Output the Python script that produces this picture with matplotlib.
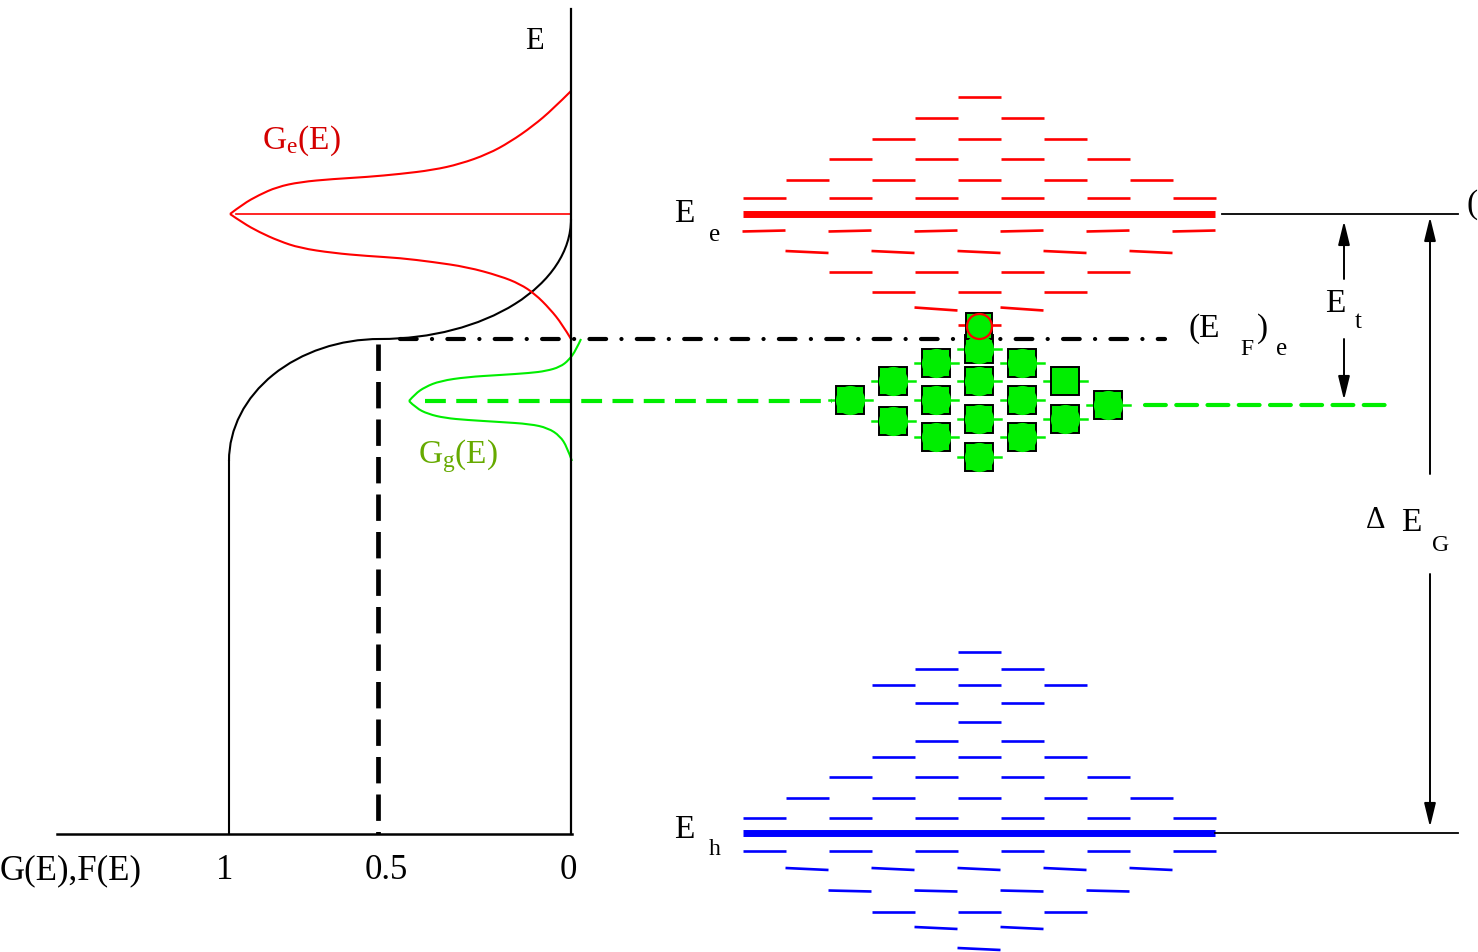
import matplotlib
matplotlib.use("Agg")
import matplotlib.pyplot as plt
from matplotlib.path import Path
from matplotlib.patches import PathPatch, Arc

plt.rcParams['font.family'] = ['Liberation Serif', 'DejaVu Serif']
plt.rcParams['mathtext.fontset'] = 'custom'
plt.rcParams['mathtext.rm'] = 'Liberation Serif'
plt.rcParams['mathtext.it'] = 'Liberation Serif:italic'
plt.rcParams['lines.scale_dashes'] = False

# ---------------- data (energy axis in picture units, pointing down) ----------------
tick_labels = ['G(E),F(E)', '1', '0.5', '0']
tick_pos = [0, 225, 386, 568]

E_top, E_axis = 10, 835          # extent of the energy axis
E_e = 215                         # conduction level
E_h = 834                         # valence level
E_F = 340                         # quasi Fermi level (E_F)_e
E_g = 402                         # trap level

# G_e(E) distribution (upper branch, lower branch)
ge_up_x = [571, 553, 533, 510, 488, 460, 433, 400, 367, 333, 300, 277, 259, 243, 230]
ge_up_y = [92, 110, 127, 143, 155, 165, 171, 175, 178, 180, 183, 188, 196, 205, 215]
ge_lo_x = [230, 243, 259, 279, 300, 333, 367, 400, 433, 467, 500, 520, 535, 550, 562, 571]
ge_lo_y = [215, 224, 233, 242, 249, 254, 257, 259, 263, 268, 277, 285, 295, 310, 325, 340]

# G_g(E) distribution
gg_up_x = [581, 576, 569, 560, 546, 530, 500, 467, 440, 425, 415, 409]
gg_up_y = [340, 351, 361, 368, 372, 374, 376, 378, 382, 388, 395, 402]
gg_lo_x = [409, 416, 428, 445, 467, 500, 530, 548, 560, 567, 572]
gg_lo_y = [402, 409, 415, 419, 421, 423, 425, 429, 437, 448, 462]

# electron band sub-levels: row energy, number of states, tilt
red_rows_y = [98, 119, 140, 160, 181, 199, 232, 253, 273, 293, 310, 326]
red_rows_n = [1, 2, 3, 4, 5, 6, 6, 5, 4, 3, 2, 1]
red_rows_t = [0, 0, 0, 0, 0, 0, -1, 2, 0, 0, 3, 0]

# hole band sub-levels
blue_rows_y = [653, 670, 686, 704, 723, 742, 758, 778, 799, 819, 852, 870, 892, 913, 929, 950]
blue_rows_n = [1, 2, 3, 2, 1, 2, 3, 4, 5, 6, 6, 5, 4, 3, 2, 1]
blue_rows_t = [0, 0, 0, 0, 0, 0, 0, 0, 0, 0, 0, 2, 1, 0, 2, 2]

# trap states (column index relative to centre, energy, rounded look)
trap_col = [-3, -2, -2, -1, -1, -1, 0, 0, 0, 0, 1, 1, 1, 2, 2, 3]
trap_y = [401, 382, 422, 364, 401, 438, 350, 382, 420, 458, 364, 401, 438, 382, 420, 406]
trap_round = [1, 1, 1, 1, 1, 1, 1, 1, 1, 1, 1, 1, 1, 0, 1, 1]
occupied_col, occupied_y = 0, 327

# ---------------- layout ----------------
W, H = 1478, 953
fig = plt.figure(figsize=(W / 100, H / 100), dpi=100)
ax = fig.add_axes([0, 0, 1, 1])
ax.set_xlim(0, W)
ax.set_ylim(H, 0)
ax.axis('off')

X_AX = 571          # F=0 axis
X_ONE = 229         # F=1
X_HALF = 378        # F=0.5
CX = 979            # centre of level diamonds
STEP = 43           # half column spacing
BAND_L, BAND_R = 743, 1215

RED = '#ff0000'
BLUE = '#0000ff'
GREEN = '#00ee00'


def smooth(xs, ys):
    pts = list(zip(xs, ys))
    verts = [pts[0]]
    codes = [Path.MOVETO]
    for i in range(1, len(pts) - 2):
        mid = ((pts[i][0] + pts[i + 1][0]) / 2, (pts[i][1] + pts[i + 1][1]) / 2)
        verts += [pts[i], mid]
        codes += [Path.CURVE3, Path.CURVE3]
    verts += [pts[-2], pts[-1]]
    codes += [Path.CURVE3, Path.CURVE3]
    return Path(verts, codes)


# ---- left panel axes ----
ax.plot([X_AX, X_AX], [E_top, E_axis], color='k', lw=1.6, zorder=3)
ax.plot([57, X_AX + 1], [E_axis, E_axis], color='k', lw=1.8, zorder=3)
ax.plot([X_ONE, X_ONE], [462, E_axis], color='k', lw=1.5)

# Fermi function shape
ax.add_patch(Arc((380, 220), 2 * (X_AX - 380), 2 * (E_F - 220), theta1=0, theta2=90,
                 color='k', lw=1.5))
ax.add_patch(Arc((380, 462), 2 * (380 - X_ONE), 2 * (462 - E_F), theta1=180, theta2=270,
                 color='k', lw=1.5))

# G_e(E)
for xs, ys in ((ge_up_x, ge_up_y), (ge_lo_x, ge_lo_y)):
    ax.add_patch(PathPatch(smooth(xs, ys), fill=False, edgecolor=RED, lw=1.5))
ax.plot([236, X_AX], [E_e, E_e], color=RED, lw=1.2)

# G_g(E)
for xs, ys in ((gg_up_x, gg_up_y), (gg_lo_x, gg_lo_y)):
    ax.add_patch(PathPatch(smooth(xs, ys), fill=False, edgecolor=GREEN, lw=1.5))

# F=0.5 dashed vertical
ax.plot([X_HALF, X_HALF], [345, E_axis], color='k', lw=3.4, ls=(0, (19, 8)))

# Fermi level dash-dot
ax.plot([400, 1165], [E_F, E_F], color='k', lw=3.0, dash_capstyle='round',
        ls=(0, (12, 11, 0.1, 11)), zorder=2)

# trap level dashed lines
ax.plot([425, 832], [E_g, E_g], color=GREEN, lw=3.0, ls=(0, (15, 7.5)), zorder=2)
ax.plot([1145, 1390], [E_g + 4, E_g + 4], color=GREEN, lw=3.0, ls=(0, (15, 7.5)),
        dash_capstyle='round', zorder=2)


# ---- band sub-levels ----
def draw_rows(rows_y, rows_n, rows_t, color):
    for y, n, t in zip(rows_y, rows_n, rows_t):
        for j in range(n):
            c = CX + 2 * STEP * (j - (n - 1) / 2)
            ax.plot([c - STEP / 2, c + STEP / 2], [y - t / 2, y + t / 2], color=color,
                    lw=1.9, solid_capstyle='butt')


draw_rows(red_rows_y, red_rows_n, red_rows_t, RED)
draw_rows(blue_rows_y, blue_rows_n, blue_rows_t, BLUE)
ax.plot([BAND_L, BAND_R], [E_e, E_e], color=RED, lw=5.0, solid_capstyle='butt')
ax.plot([BAND_L, BAND_R], [E_h, E_h], color=BLUE, lw=5.0, solid_capstyle='butt')
ax.plot([1222, 1458], [E_e, E_e], color='k', lw=1.3)
ax.plot([BAND_R, 1458], [E_h, E_h], color='k', lw=1.3)

# ---- trap states ----
for col, y, rnd in zip(trap_col, trap_y, trap_round):
    x = CX + col * STEP
    ax.plot([x - STEP / 2, x + STEP / 2], [y, y], color=GREEN, lw=1.8, zorder=4)
    ax.plot(x, y, marker='s', ms=19.5, mfc=GREEN, mec='k', mew=1.4, zorder=5)
    if rnd:
        ax.plot(x, y, marker='o', ms=21, mfc=GREEN, mec='none', zorder=6)
ox = CX + occupied_col * STEP
ax.plot(ox, occupied_y, marker='s', ms=19, mfc=GREEN, mec='k', mew=1.4, zorder=5)
ax.plot(ox, occupied_y, marker='o', ms=18, mfc=GREEN, mec=RED, mew=1.6, zorder=6)

# ---- arrows ----
arw = dict(arrowstyle='-|>,head_length=0.9,head_width=0.22', color='k', lw=1.4,
           shrinkA=0, shrinkB=0, mutation_scale=16)
ax.annotate('', xy=(1344, 222), xytext=(1344, 280), arrowprops=arw)
ax.annotate('', xy=(1344, 401), xytext=(1344, 340), arrowprops=arw)
ax.annotate('', xy=(1430, 218), xytext=(1430, 475), arrowprops=arw)
ax.annotate('', xy=(1430, 828), xytext=(1430, 575), arrowprops=arw)

# ---- texts ----
for lab, x in zip(tick_labels, tick_pos):
    ha = 'left' if x == 0 else 'center'
    ax.text(x, 879, lab, fontsize=25, ha=ha, va='baseline')

ax.text(525, 49, 'E', fontsize=22, va='baseline')
ax.text(262, 149, r'G$_\mathregular{e}$(E)', fontsize=24, color='#d40000', va='baseline')
ax.text(418, 463, r'G$_\mathregular{g}$(E)', fontsize=24, color='#66aa00', va='baseline')

ax.text(674, 222, 'E', fontsize=24, va='baseline')
ax.text(709, 241, 'e', fontsize=18, va='baseline')
ax.text(674, 838, 'E', fontsize=24, va='baseline')
ax.text(709, 855, 'h', fontsize=17, va='baseline')

ax.text(1189, 337, '(E', fontsize=24, va='baseline')
ax.text(1240, 355, 'F', fontsize=17, va='baseline')
ax.text(1257, 337, ')', fontsize=24, va='baseline')
ax.text(1276, 355, 'e', fontsize=18, va='baseline')

ax.text(1325, 312, 'E', fontsize=24, va='baseline')
ax.text(1355, 328, 't', fontsize=18, va='baseline')

ax.text(1366, 528, '\u0394', fontsize=22, va='baseline')
ax.text(1401, 531, 'E', fontsize=24, va='baseline')
ax.text(1432, 551, 'G', fontsize=17, va='baseline')

ax.text(1467, 213, '(', fontsize=24, va='baseline')

fig.savefig('out.png', dpi=100)
